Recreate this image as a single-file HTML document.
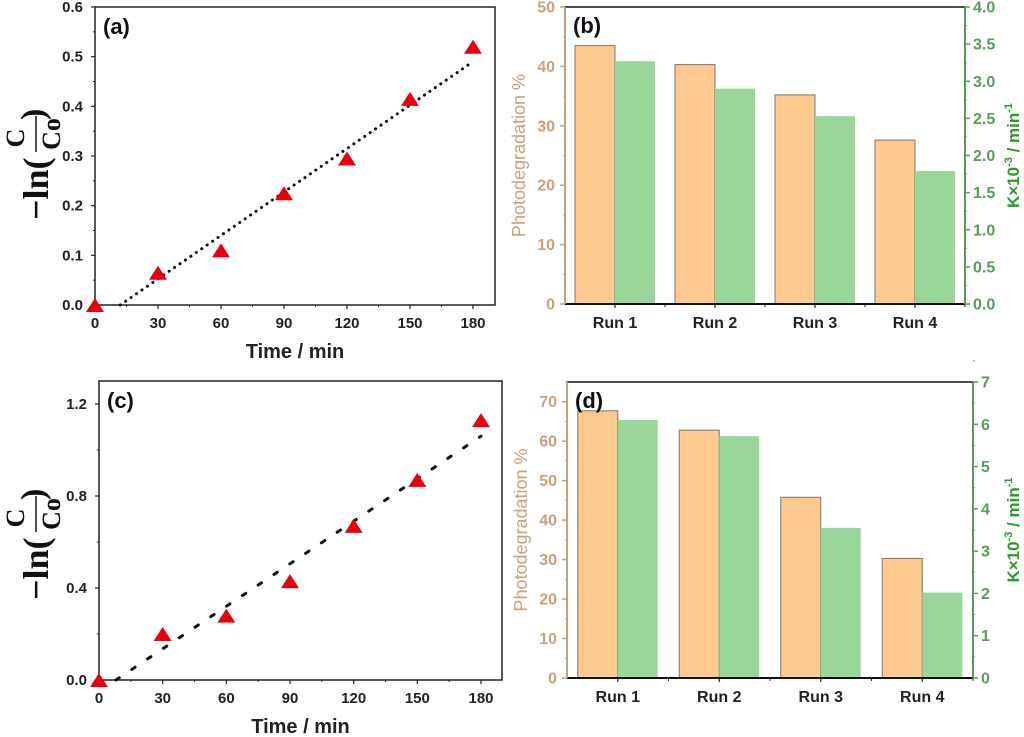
<!DOCTYPE html>
<html><head><meta charset="utf-8"><style>
html,body{margin:0;padding:0;background:#fff;width:1024px;height:737px;overflow:hidden}
svg{display:block;font-family:"Liberation Sans",sans-serif}
</style></head><body>
<svg id="fig" width="1024" height="737" viewBox="0 0 1024 737" xmlns="http://www.w3.org/2000/svg"></svg>
<script>
// ---- data ----
const timeA = [0, 30, 60, 90, 120, 150, 180];
const valuesA = [0, 0.065, 0.11, 0.225, 0.295, 0.415, 0.52];
const fitA = [12, 0, 180, 0.49];
const timeC = [0, 30, 60, 90, 120, 150, 180];
const valuesC = [0, 0.2, 0.28, 0.43, 0.67, 0.87, 1.13];
const fitC = [8, 0, 180, 1.06];
const runs = ["Run 1", "Run 2", "Run 3", "Run 4"];
const degB = [43.5, 40.3, 35.2, 27.6];
const kB = [3.27, 2.9, 2.53, 1.79];
const degD = [67.7, 62.8, 45.8, 30.3];
const kD = [6.1, 5.72, 3.55, 2.02];
const xTicks = [0, 30, 60, 90, 120, 150, 180];
const yTicksA = [0, 0.1, 0.2, 0.3, 0.4, 0.5, 0.6];
const yTicksC = [0, 0.4, 0.8, 1.2];
const lTicksB = [0, 10, 20, 30, 40, 50];
const rTicksB = [0, 0.5, 1, 1.5, 2, 2.5, 3, 3.5, 4];
const lTicksD = [0, 10, 20, 30, 40, 50, 60, 70];
const rTicksD = [0, 1, 2, 3, 4, 5, 6, 7];

const svg = document.getElementById('fig');
const NS = 'http://www.w3.org/2000/svg';
function mk(tag, attrs, parent, text) {
  const e = document.createElementNS(NS, tag);
  for (const k in attrs) e.setAttribute(k, attrs[k]);
  if (text !== undefined) e.textContent = text;
  (parent || svg).appendChild(e);
  return e;
}

function scatterPanel(o) {
  const g = mk('g', {});
  
  
  const sx = v => o.L + (v - 0) / 180 * (o.x180 - o.L);
  const sy = v => o.B - v / o.ymax * (o.B - o.T);
  const fr = mk('rect', {x: o.L, y: o.T, width: o.R - o.L, height: o.B - o.T, fill: 'none', stroke: '#222', 'stroke-width': 1.5}, g);
  
  
  xTicks.forEach((t, i) => {
    mk('line', {x1: sx(t), x2: sx(t), y1: o.B, y2: o.B + 4, stroke: '#222', 'stroke-width': 1.2}, g);
    if (i < xTicks.length - 1) mk('line', {x1: sx(t + 15), x2: sx(t + 15), y1: o.B, y2: o.B + 2, stroke: '#222'}, g);
    const tl = mk('text', {x: sx(t), y: o.B + 23, 'text-anchor': 'middle', 'font-size': 15, 'font-weight': 'bold', fill: '#222'}, g, t);
    
    
  });
  o.yTicks.forEach(t => {
    mk('line', {x1: o.L - 4, x2: o.L, y1: sy(t), y2: sy(t), stroke: '#222', 'stroke-width': 1.2}, g);
    const tl = mk('text', {x: o.L - 12, y: sy(t) + 5, 'text-anchor': 'end', 'font-size': 15, 'font-weight': 'bold', fill: '#222'}, g, t.toFixed(1));
    
    
  });
  o.minor.forEach(t => mk('line', {x1: o.L - 2, x2: o.L, y1: sy(t), y2: sy(t), stroke: '#222'}, g));
  const xt = mk('text', {x: (o.L + o.R) / 2, y: o.B + 53, 'text-anchor': 'middle', 'font-size': 20, 'font-weight': 'bold', fill: '#222'}, g, 'Time / min');
  
  
  const yt = mk('g', {transform: `translate(${o.ytx},${o.yty}) rotate(-90)`}, g);
  
  
  const sf = '"Liberation Serif",serif';
  mk('text', {x: 0, y: 0, 'font-family': sf, 'font-size': 36, 'font-weight': 'bold', fill: '#111'}, yt, '\u2212ln(');
  mk('text', {x: 82, y: -24, 'font-family': sf, 'font-size': 26, 'font-weight': 'bold', fill: '#111', 'text-anchor': 'middle'}, yt, 'C');
  mk('line', {x1: 68, x2: 104, y1: -12, y2: -12, stroke: '#111', 'stroke-width': 1.5}, yt);
  mk('text', {x: 86, y: 12, 'font-family': sf, 'font-size': 26, 'font-weight': 'bold', fill: '#111', 'text-anchor': 'middle'}, yt, 'Co');
  mk('text', {x: 100, y: -4, 'font-family': sf, 'font-size': 34, 'font-weight': 'bold', fill: '#111'}, yt, ')');
  const lb = mk('text', {x: o.L + 8, y: o.T + 27, 'font-size': 22, 'font-weight': 'bold', fill: '#111'}, g, o.label);
  
  
  const fl = mk('line', {x1: sx(o.fit[0]), y1: sy(o.fit[1]), x2: sx(o.fit[2]), y2: sy(o.fit[3]), stroke: '#111', 'stroke-width': 3, 'stroke-dasharray': o.dash, 'stroke-linecap': 'round'}, g);
  
  
  o.xs.forEach((x, i) => {
    const cx = sx(x), cy = sy(o.ys[i]);
    const p = mk('polygon', {points: `${cx},${cy - 7} ${cx - 9},${cy + 7} ${cx + 9},${cy + 7}`, fill: '#e8000e'}, g);
    
    
  });
}

function barPanel(o) {
  const g = mk('g', {});
  
  
  const brown = '#c8a07c', green = '#5a9a5a';
  const sl = v => o.B - v / o.lmax * (o.B - o.T);
  const sr = v => o.B - v / o.rmax * (o.B - o.T);
  const step = (o.R - o.L) / runs.length;
  runs.forEach((r, i) => {
    const c = o.L + step * (i + 0.5);
    const b1 = mk('rect', {x: c - 40, y: sl(o.deg[i]), width: 40, height: o.B - sl(o.deg[i]), fill: '#fdc98c', stroke: '#777', 'stroke-width': 1}, g);
    
    
    const b2 = mk('rect', {x: c, y: sr(o.k[i]), width: 40, height: o.B - sr(o.k[i]), fill: '#9ad59a'}, g);
    
    
    mk('line', {x1: c, x2: c, y1: o.B, y2: o.B + 4, stroke: '#222', 'stroke-width': 1.2}, g);
    mk('line', {x1: c + step / 2, x2: c + step / 2, y1: o.B, y2: o.B + 3, stroke: '#222'}, g);
    const tl = mk('text', {x: c, y: o.B + 24, 'text-anchor': 'middle', 'font-size': 16, 'font-weight': 'bold', fill: '#222'}, g, r);
    
    
  });
  mk('line', {x1: o.L, x2: o.R, y1: o.T, y2: o.T, stroke: '#111', 'stroke-width': 1.5}, g);
  mk('line', {x1: o.L, x2: o.R, y1: o.B, y2: o.B, stroke: '#111', 'stroke-width': 2}, g);
  const la = mk('line', {x1: o.L, x2: o.L, y1: o.T, y2: o.B, stroke: brown, 'stroke-width': 2}, g);
  
  
  const ra = mk('line', {x1: o.R, x2: o.R, y1: o.T, y2: o.B, stroke: green, 'stroke-width': 2}, g);
  
  
  o.lt.forEach(t => {
    mk('line', {x1: o.L - 5, x2: o.L, y1: sl(t), y2: sl(t), stroke: brown, 'stroke-width': 1.5}, g);
    mk('line', {x1: o.L - 2, x2: o.L, y1: sl(t + o.lt[1] / 2), y2: sl(t + o.lt[1] / 2), stroke: brown}, g);
    const tl = mk('text', {x: o.L - 10, y: sl(t) + 5.5, 'text-anchor': 'end', 'font-size': 16, 'font-weight': 'bold', fill: brown}, g, t);
    
    
  });
  o.rt.forEach(t => {
    mk('line', {x1: o.R, x2: o.R + 5, y1: sr(t), y2: sr(t), stroke: green, 'stroke-width': 1.5}, g);
    mk('line', {x1: o.R, x2: o.R + 2, y1: sr(t + o.rt[1] / 2), y2: sr(t + o.rt[1] / 2), stroke: green}, g);
    const tl = mk('text', {x: o.R + 8, y: sr(t) + 5.5, 'font-size': 16, 'font-weight': 'bold', fill: green}, g, o.rdec ? t.toFixed(1) : t);
    
    
  });
  const lyt = mk('text', {transform: `translate(${o.L - 40},${(o.T + o.B) / 2}) rotate(-90)`, 'text-anchor': 'middle', 'font-size': 18, fill: brown}, g, 'Photodegradation %');
  
  
  const ryt = mk('text', {transform: `translate(${o.ryx},${(o.T + o.B) / 2}) rotate(-90)`, 'text-anchor': 'middle', 'font-size': 17, 'font-weight': 'bold', fill: '#2a9a2a'}, g);
  
  
  mk('tspan', {}, ryt, 'K\u00d710');
  mk('tspan', {dy: -7, 'font-size': 11}, ryt, '-3');
  mk('tspan', {dy: 7}, ryt, ' / min');
  mk('tspan', {dy: -7, 'font-size': 11}, ryt, '-1');
  const lb = mk('text', {x: o.L + 8, y: o.T + 26, 'font-size': 22, 'font-weight': 'bold', fill: '#111'}, g, o.label);
  
  
}

scatterPanel({name: 'panel-a', L: 95, R: 495, T: 7, B: 305, x180: 473, ymax: 0.6, yTicks: yTicksA, minor: [0.05, 0.15, 0.25, 0.35, 0.45, 0.55],
  xs: timeA, ys: valuesA, fit: fitA, dash: '0.1 6.5', label: '(a)', ytx: 48, yty: 220});
scatterPanel({name: 'panel-c', L: 99, R: 502, T: 381, B: 680, x180: 481, ymax: 1.3, yTicks: yTicksC, minor: [0.2, 0.6, 1.0],
  xs: timeC, ys: valuesC, fit: fitC, dash: '4 15', label: '(c)', ytx: 48, yty: 600});
barPanel({name: 'panel-b', L: 565, R: 965, T: 7, B: 304, lmax: 50, rmax: 4, lt: lTicksB, rt: rTicksB, rdec: true,
  deg: degB, k: kB, label: '(b)', ryx: 1019});
barPanel({name: 'panel-d', L: 567, R: 973, T: 382, B: 678, lmax: 75, rmax: 7, lt: lTicksD, rt: rTicksD, rdec: false,
  deg: degD, k: kD, label: '(d)', ryx: 1019});
</script>
</body></html>
